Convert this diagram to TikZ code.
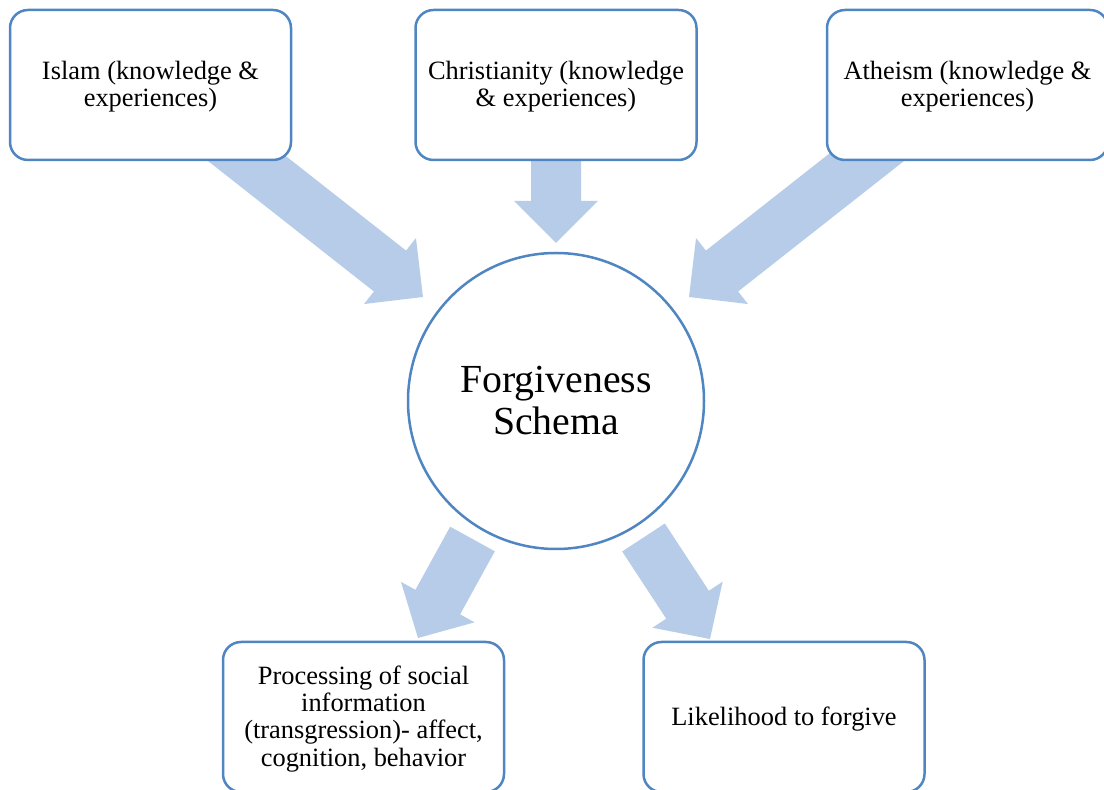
\documentclass[tikz,border=0pt]{standalone}
\usepackage{fontspec}
\setmainfont{Liberation Serif}
\usetikzlibrary{calc}
\pgfdeclarelayer{bg}
\pgfsetlayers{bg,main}
\definecolor{boxline}{HTML}{4F86C1}
\definecolor{arrowfill}{HTML}{B7CCE8}
% #1 back centre, #2 tip, #3 half shaft width, #4 half head width, #5 head length
\newcommand\blockarrow[5]{%
  \fill[arrowfill] ($(#1)!#3!-90:(#2)$)
    -- ($(#2)!#5!(#1)!#3!90:(#1)$)
    -- ($(#2)!#5!(#1)!#4!90:(#1)$)
    -- (#2)
    -- ($(#2)!#5!(#1)!#4!-90:(#1)$)
    -- ($(#2)!#5!(#1)!#3!-90:(#1)$)
    -- ($(#1)!#3!90:(#2)$) -- cycle;}
\newcommand\topstrut{\rule{0pt}{11pt}}
\begin{document}
\begin{tikzpicture}[x=0.5pt,y=-0.5pt,
  box/.style={draw=boxline, line width=1.25pt, fill=white, rounded corners=9pt,
    minimum width=140.5pt, minimum height=75pt, align=center, inner sep=0pt,
    font=\fontsize{13.2}{13.7}\selectfont},
  schema/.style={circle, draw=boxline, line width=1.25pt, fill=white,
    minimum size=148pt, inner sep=0pt, align=center,
    font=\fontsize{19.9}{21}\selectfont}]
\useasboundingbox (0,0) rectangle (1104,790);

\node[box] (islam) at (150.5,85) {\topstrut Islam (knowledge \&\\experiences)};
\node[box] (christ) at (556,85) {\topstrut Christianity (knowledge\\\& experiences)};
\node[box] (atheism) at (967.5,85) {\topstrut Atheism (knowledge \&\\experiences)};
\node[schema] (fs) at (556,401) {Forgiveness\\Schema};
\node[box] (proc) at (363.5,717) {\topstrut Processing of social\\information\\(transgression)- affect,\\cognition, behavior};
\node[box] (likely) at (784,717) {\topstrut Likelihood to forgive};

\coordinate (ia) at (203,124);   \coordinate (ib) at (423,297);
\coordinate (ca) at (556,100);   \coordinate (cb) at (556,243);
\coordinate (aa) at (909,124);   \coordinate (ab) at (689,297);
\coordinate (pa) at (472.5,539); \coordinate (pb) at (418,638);
\coordinate (la) at (643.5,537.5); \coordinate (lb) at (710,639);

\begin{pgfonlayer}{bg}
\blockarrow{ia}{ib}{13pt}{21pt}{21pt}
\blockarrow{ca}{cb}{12.5pt}{21pt}{21pt}
\blockarrow{aa}{ab}{13pt}{21pt}{21pt}
\blockarrow{pa}{pb}{12.75pt}{21pt}{20.5pt}
\blockarrow{la}{lb}{12.75pt}{21pt}{20.5pt}
\end{pgfonlayer}
\end{tikzpicture}
\end{document}
